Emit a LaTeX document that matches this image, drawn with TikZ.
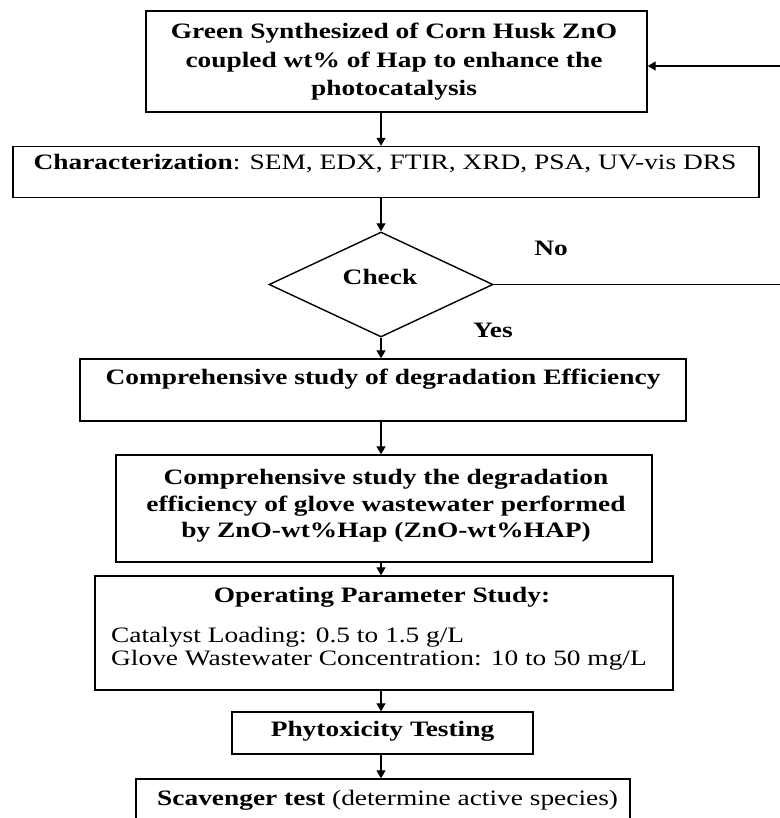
\documentclass[tikz,border=0pt]{standalone}
\usepackage{fontspec}
\setmainfont{Liberation Serif}[FakeStretch=1.245]
\usetikzlibrary{shapes.geometric, arrows.meta}

\begin{document}
\begin{tikzpicture}[x=1pt, y=-1pt,
		box/.style={draw, line width=1.4pt, inner sep=0pt},
		txt/.style={font=\fontsize{22}{28}\selectfont, align=center, inner sep=0pt},
		bold/.style={txt, font=\fontsize{22}{28}\selectfont\bfseries},
		arr/.style={-{Triangle[length=8pt, width=9pt]}, line width=1.3pt}]
	\useasboundingbox (0,0) rectangle (779,818);
	\node[box, minimum width=501, minimum height=101] (synth) at (396.5,61.5) {};
	\node[bold, font=\fontsize{22}{28.5}\selectfont\bfseries] (synthtxt) at (394,62) {Green Synthesized of Corn Husk ZnO\\coupled wt\% of Hap to enhance the\\photocatalysis};
	\node[box, minimum width=746, minimum height=51] (char) at (386,172) {};
	\node[txt] (chartxt) at (385,164) {\textbf{Characterization}: SEM, EDX, FTIR, XRD, PSA, UV-vis DRS};
	\node[box, diamond, minimum width=224, minimum height=105] (check) at (381,284.5) {};
	\node[bold] (checktxt) at (380,277) {Check};
	\node[bold] (no) at (551,248) {No};
	\node[bold] (yes) at (493,330) {Yes};
	\node[box, minimum width=606, minimum height=62] (eff) at (383,390) {};
	\node[bold] (efftxt) at (383,379) {Comprehensive study of degradation Efficiency};
	\node[box, minimum width=536, minimum height=107] (deg) at (384,508.5) {};
	\node[bold, font=\fontsize{22}{26.5}\selectfont\bfseries] (degtxt) at (386,506) {Comprehensive study the degradation\\efficiency of glove wastewater performed\\by ZnO-wt\%Hap (ZnO-wt\%HAP)};
	\node[box, minimum width=578, minimum height=114] (par) at (384,633) {};
	\node[bold] (partxt) at (382,597) {Operating Parameter Study:};
	\node[txt, align=left, anchor=west, font=\fontsize{22}{23}\selectfont] (parlist) at (111,649) {Catalyst Loading: 0.5 to 1.5 g/L\\Glove Wastewater Concentration: 10 to 50 mg/L};
	\node[box, minimum width=301, minimum height=42] (phyto) at (382.5,733) {};
	\node[bold] (phytotxt) at (382.5,731) {Phytoxicity Testing};
	\node[box, minimum width=494, minimum height=60] (scav) at (383,809) {};
	\node[txt, anchor=west] (scavtxt) at (157,800) {\textbf{Scavenger test} (determine active species)};
	\coordinate (loop) at (800,66);
	% arrows down the middle
	\draw[arr] (synth.south -| check.north) -- (char.north -| check.north);
	\draw[arr] (char.south -| check.north) -- (check.north);
	\draw[arr] (check.south) -- (eff.north -| check.south);
	\draw[arr] (eff.south -| check.south) -- (deg.north -| check.south);
	\draw[arr] (deg.south -| check.south) -- (par.north -| check.south);
	\draw[arr] (par.south -| check.south) -- (phyto.north -| check.south);
	\draw[arr] (phyto.south -| check.south) -- (scav.north -| check.south);
	% back to the start
	\draw[arr] (check.east) -- (check.east -| loop) -- (loop) -- (loop -| synth.east);
\end{tikzpicture}
\end{document}
